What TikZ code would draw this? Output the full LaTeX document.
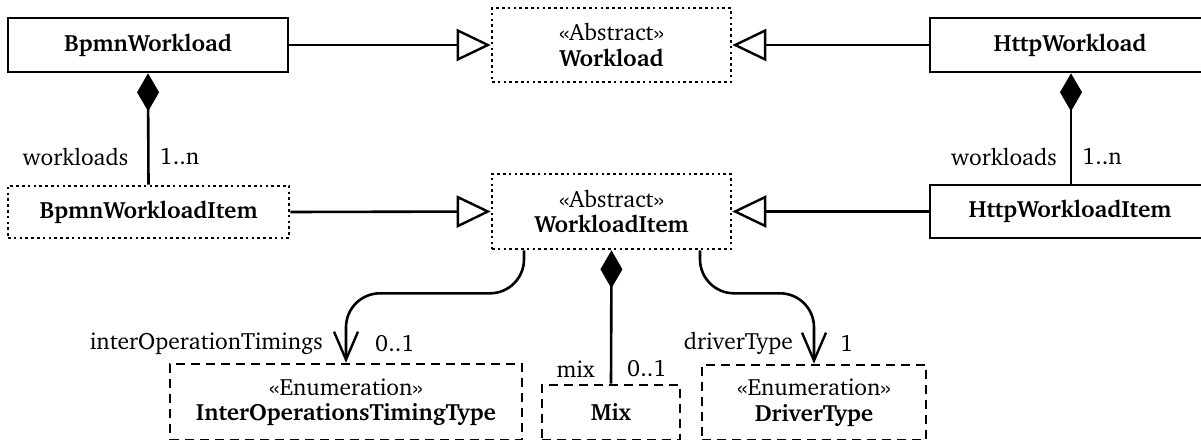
\documentclass[tikz,border=0pt]{standalone}
\usepackage[T1]{fontenc}
\renewcommand{\rmdefault}{bch}
\usetikzlibrary{arrows.meta}
\newcommand{\stereo}[1]{\guillemotleft#1\guillemotright}
\tikzset{
  umlbase/.style={inner sep=0pt, align=center, line width=2.6pt,
    font=\fontsize{23.5}{25.5}\selectfont},
  concrete/.style={umlbase, draw},
  abstractcls/.style={umlbase, draw, dash pattern=on 2.6pt off 3.2pt},
  enumcls/.style={umlbase, draw, dash pattern=on 9pt off 6pt},
  lbl/.style={inner sep=0pt, font=\fontsize{23.5}{25.5}\selectfont},
  conn/.style={line width=2.6pt},
  gen/.style={conn, -{Triangle[open, length=34pt, width=32pt, line width=2.4pt]}},
  comp/.style={conn, {Diamond[length=38pt, width=22pt]}-},
  assoc/.style={conn, rounded corners=34pt,
    -{Straight Barb[length=28pt, width=24pt, line width=2.4pt]}},
}
\begin{document}
\begin{tikzpicture}[x=1pt, y=-1pt]
\useasboundingbox (0,0) rectangle (1201,439);

% classes of the upper tier
\node[concrete, minimum width=280pt, minimum height=54pt] (bw) at (148,45) {\bfseries BpmnWorkload};
\node[abstractcls, minimum width=239pt, minimum height=74pt] (wl) at (611.5,45) {\stereo{Abstract}\\\bfseries Workload};
\node[concrete, minimum width=280pt, minimum height=54pt] (hw) at (1070,45) {\bfseries HttpWorkload};

% workload items
\node[abstractcls, minimum width=281pt, minimum height=52pt] (bwi) at (148.5,212) {\bfseries BpmnWorkloadItem};
\node[abstractcls, minimum width=239pt, minimum height=75pt] (wi) at (611.5,211.5) {\stereo{Abstract}\\\bfseries WorkloadItem};
\node[concrete, minimum width=280pt, minimum height=53pt] (hwi) at (1070,211.5) {\bfseries HttpWorkloadItem};

% enumerations and mix
\node[enumcls, minimum width=352pt, minimum height=76pt] (iot) at (346,402) {\stereo{Enumeration}\\\bfseries InterOperationsTimingType};
\node[enumcls, minimum width=138pt, minimum height=55pt] (mix) at (611,412.5) {\bfseries Mix};
\node[enumcls, minimum width=224pt, minimum height=75pt] (dt) at (814,402.5) {\stereo{Enumeration}\\\bfseries DriverType};

% generalizations
\draw[gen] (bw.east) -- (wl.west);
\draw[gen] (hw.west) -- (wl.east);
\draw[gen] (bwi.east) -- (wi.west);
\draw[gen] (hwi.west) -- (wi.east);

% compositions
\draw[comp] (bw.south) -- (bwi.north);
\node[lbl, anchor=east] (bwl) at ([xshift=-20pt, yshift=28pt]bwi.north) {workloads};
\node[lbl, anchor=west] (bwm) at ([xshift=11pt, yshift=28pt]bwi.north) {1..n};

\draw[comp] ([xshift=1pt]hw.south) -- ([xshift=1pt]hwi.north);
\node[lbl, anchor=east] (hwl) at ([xshift=-13pt, yshift=27pt]hwi.north) {workloads};
\node[lbl, anchor=west] (hwm) at ([xshift=12pt, yshift=27pt]hwi.north) {1..n};

\draw[comp] (wi.south) -- (mix.north);
\node[lbl, anchor=east] (mixl) at ([xshift=-16pt, yshift=15pt]mix.north) {mix};
\node[lbl, anchor=west] (mixm) at ([xshift=16pt, yshift=15pt]mix.north) {0..1};

% associations
\draw[assoc] ([xshift=-87.5pt]wi.south) -- ++(0,43) -| (iot.north);
\node[lbl, anchor=east] (iotl) at ([xshift=-23pt, yshift=19pt]iot.north) {interOperationTimings};
\node[lbl, anchor=west] (iotm) at ([xshift=29pt, yshift=19pt]iot.north) {0..1};

\draw[assoc] ([xshift=88.5pt]wi.south) -- ++(0,43) -| (dt.north);
\node[lbl, anchor=east] (dtl) at ([xshift=-21pt, yshift=20pt]dt.north) {driverType};
\node[lbl, anchor=west] (dtm) at ([xshift=26pt, yshift=20pt]dt.north) {1};
\end{tikzpicture}
\end{document}
